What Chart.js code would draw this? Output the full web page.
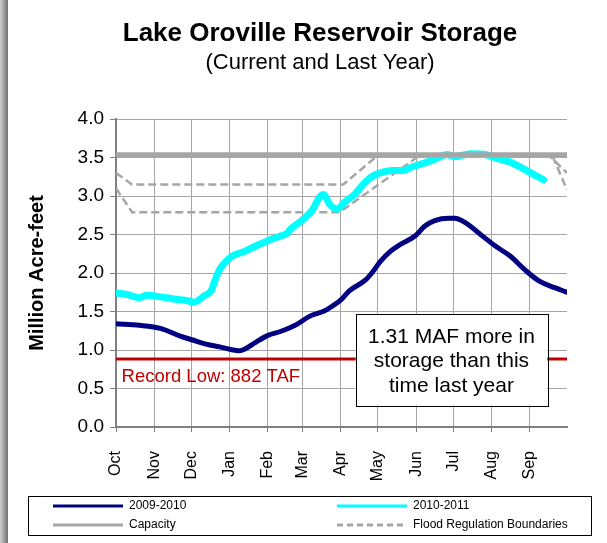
<!DOCTYPE html>
<html>
<head>
<meta charset="utf-8">
<script src="https://cdn.jsdelivr.net/npm/chart.js@4.4.1/dist/chart.umd.min.js"></script>
<style>
  html, body { margin: 0; padding: 0; background: #fff; }
  canvas { display: block; }
</style>
</head>
<body>
<canvas id="chart" width="607" height="543"></canvas>
<script>
// water year runs Oct 1 (day 0) to Sep 30 (day 365)
const monthTicks = [0, 31, 61, 92, 123, 151, 182, 212, 243, 273, 304, 335];
const monthLabels = ['Oct', 'Nov', 'Dec', 'Jan', 'Feb', 'Mar', 'Apr', 'May', 'Jun', 'Jul', 'Aug', 'Sep'];

// 2009-2010 storage, million acre-feet
const daysLastYear = [0, 19, 36, 52, 62, 72, 84, 92, 100, 104, 113, 123, 133, 146, 157, 169, 176, 182, 189, 202, 207, 214, 222, 230, 242, 250, 258, 269, 274, 283, 295, 307, 319, 331, 343, 355, 365];
const storageLastYear = [1.34, 1.32, 1.28, 1.18, 1.13, 1.08, 1.04, 1.01, 0.99, 1.01, 1.10, 1.19, 1.24, 1.33, 1.44, 1.51, 1.58, 1.65, 1.77, 1.91, 2.00, 2.15, 2.28, 2.37, 2.48, 2.61, 2.68, 2.71, 2.71, 2.65, 2.50, 2.35, 2.22, 2.04, 1.89, 1.81, 1.75];

// 2010-2011 storage
const daysCurrent = [0, 9, 19, 25, 36, 48, 58, 63, 72, 77, 80, 84, 88, 94, 104, 113, 123, 133, 138, 142, 151, 159, 165, 168, 173, 179, 185, 193, 200, 207, 214, 224, 232, 240, 250, 257, 268, 274, 287, 299, 308, 319, 329, 338, 346];
const storageCurrent = [1.74, 1.72, 1.68, 1.71, 1.69, 1.66, 1.64, 1.62, 1.71, 1.77, 1.90, 2.05, 2.13, 2.22, 2.28, 2.35, 2.42, 2.48, 2.51, 2.58, 2.69, 2.82, 2.99, 3.02, 2.89, 2.83, 2.92, 3.02, 3.15, 3.25, 3.30, 3.33, 3.33, 3.38, 3.43, 3.47, 3.54, 3.51, 3.55, 3.54, 3.49, 3.44, 3.36, 3.28, 3.21];

// flood regulation boundaries
const floodUpperDays = [0, 13, 184, 212, 350, 365];
const floodUpper = [3.30, 3.15, 3.15, 3.53, 3.53, 3.30];
const floodLowerDays = [0, 13, 181, 246, 353, 365];
const floodLower = [3.10, 2.79, 2.79, 3.53, 3.53, 3.08];

const capacity = 3.537;
const recordLow = 0.882;
const recordLowText = 'Record Low: 882 TAF';
const noteLines = ['1.31 MAF more in', 'storage than this', 'time last year'];

const FONT = 'Arial, "Liberation Sans", sans-serif';

function toPoints(xs, ys) {
  return xs.map((x, i) => ({ x: x, y: ys[i] }));
}

const dashed = {
  borderColor: '#a6a6a6', borderWidth: 2.5, borderDash: [8, 4],
  pointRadius: 0, tension: 0, order: 5
};

const datasets = [
  { label: '2009-2010', data: toPoints(daysLastYear, storageLastYear),
    borderColor: '#000080', borderWidth: 5, pointRadius: 0,
    cubicInterpolationMode: 'monotone', borderCapStyle: 'round', borderJoinStyle: 'round', order: 3 },
  { label: '2010-2011', data: toPoints(daysCurrent, storageCurrent),
    borderColor: '#00ffff', borderWidth: 7, pointRadius: 0,
    cubicInterpolationMode: 'monotone', borderCapStyle: 'round', borderJoinStyle: 'round', order: 2 },
  { label: 'Capacity', data: [{ x: 0, y: capacity }, { x: 365, y: capacity }],
    borderColor: '#a6a6a6', borderWidth: 5, pointRadius: 0, borderCapStyle: 'round', order: 1 },
  Object.assign({ label: 'Flood Regulation Boundaries', data: toPoints(floodUpperDays, floodUpper) }, dashed),
  Object.assign({ label: 'Flood Regulation Boundaries', data: toPoints(floodLowerDays, floodLower), hideInLegend: true }, dashed),
  { label: recordLowText, data: [{ x: 0, y: recordLow }, { x: 365, y: recordLow }],
    borderColor: '#c00000', borderWidth: 3, pointRadius: 0, order: 6, hideInLegend: true }
];

// left frame strip, titles, note box, legend
const decorations = {
  id: 'decorations',
  beforeDraw(chart) {
    const ctx = chart.ctx;
    ctx.save();
    const g = ctx.createLinearGradient(0, 0, 8, 0);
    g.addColorStop(0, '#d0d0d0');
    g.addColorStop(1, '#707070');
    ctx.fillStyle = g;
    ctx.fillRect(0, 0, 8, chart.height);
    ctx.restore();
  },
  afterDatasetsDraw(chart) {
    const ctx = chart.ctx;
    const x = chart.scales.x, y = chart.scales.y;
    ctx.save();

    // record low label
    ctx.fillStyle = '#c00000';
    ctx.font = '18.5px ' + FONT;
    ctx.textAlign = 'left';
    ctx.textBaseline = 'middle';
    ctx.fillText(recordLowText, x.getPixelForValue(4.5), y.getPixelForValue(0.65));

    // note box
    const l = x.getPixelForValue(194), r = x.getPixelForValue(349);
    const t = y.getPixelForValue(1.47), b = y.getPixelForValue(0.28);
    ctx.fillStyle = '#fff';
    ctx.fillRect(l, t, r - l, b - t);
    ctx.strokeStyle = '#000';
    ctx.lineWidth = 1;
    ctx.strokeRect(Math.round(l) + 0.5, Math.round(t) + 0.5, Math.round(r - l), Math.round(b - t));
    ctx.fillStyle = '#000';
    ctx.font = '21px ' + FONT;
    ctx.textAlign = 'center';
    noteLines.forEach((s, i) => ctx.fillText(s, (l + r) / 2, t + 23 + i * 24.5));
    ctx.restore();
  },
  afterDraw(chart) {
    const ctx = chart.ctx;
    ctx.save();
    ctx.fillStyle = '#000';
    ctx.textAlign = 'center';
    ctx.textBaseline = 'middle';
    ctx.font = 'bold 26px ' + FONT;
    ctx.fillText('Lake Oroville Reservoir Storage', 320, 34);
    ctx.font = '22px ' + FONT;
    ctx.fillText('(Current and Last Year)', 320, 63);

    // legend
    ctx.strokeStyle = '#000';
    ctx.lineWidth = 1;
    ctx.strokeRect(28.5, 496.5, 563, 39);
    const cols = [53, 337], rows = [506, 525];
    const items = chart.data.datasets.filter(d => !d.hideInLegend);
    ctx.font = '12px ' + FONT;
    ctx.textAlign = 'left';
    items.forEach((d, i) => {
      const cx = cols[i % 2], cy = rows[Math.floor(i / 2)];
      ctx.beginPath();
      ctx.strokeStyle = d.borderColor;
      ctx.lineWidth = 3;
      ctx.setLineDash(d.borderDash ? [6, 4] : []);
      ctx.moveTo(cx, cy);
      ctx.lineTo(cx + 70, cy);
      ctx.stroke();
      ctx.setLineDash([]);
      ctx.fillStyle = '#000';
      ctx.fillText(d.label, cx + 76, cy);
    });
    ctx.restore();
  }
};

new Chart(document.getElementById('chart'), {
  type: 'line',
  data: { datasets: datasets },
  options: {
    responsive: false,
    animation: false,
    layout: { padding: { left: 20, right: 40, top: 119, bottom: 46 } },
    plugins: { legend: { display: false }, tooltip: { enabled: false } },
    scales: {
      x: {
        type: 'linear', min: 0, max: 365,
        afterBuildTicks: s => { s.ticks = monthTicks.map(v => ({ value: v })); },
        afterFit: s => { s.height = 70; },
        grid: { color: '#a6a6a6', tickLength: 5, tickColor: '#808080' },
        border: { color: '#808080', width: 2 },
        ticks: {
          autoSkip: false, minRotation: 90, maxRotation: 90, padding: 19,
          color: '#000', font: { family: FONT, size: 16 },
          callback: (v, i) => monthLabels[i]
        }
      },
      y: {
        min: 0, max: 4,
        afterFit: s => { s.width = 96; },
        grid: { color: '#a6a6a6', tickLength: 6, tickColor: '#808080' },
        border: { color: '#808080', width: 2 },
        ticks: {
          stepSize: 0.5, padding: 6, color: '#000',
          font: { family: FONT, size: 19 },
          callback: v => v.toFixed(1)
        },
        title: {
          display: true, text: 'Million Acre-feet', color: '#000',
          font: { family: FONT, size: 20, weight: 'bold' },
          padding: { top: 5, bottom: 0 }
        }
      }
    }
  },
  plugins: [decorations]
});
</script>
</body>
</html>
